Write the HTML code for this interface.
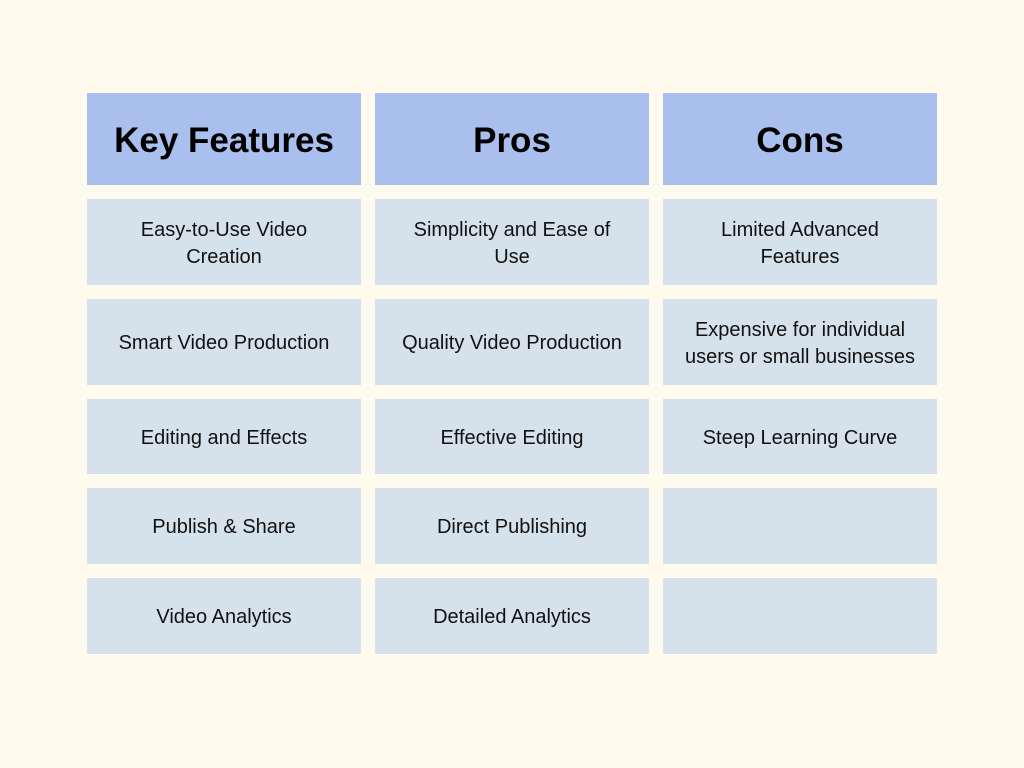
<!DOCTYPE html>
<html><head><style>
body{margin:0;width:1024px;height:768px;background:#fefbee;position:relative;overflow:hidden;font-family:"Liberation Sans","DejaVu Sans",sans-serif}
.c{position:absolute;display:flex;align-items:center;justify-content:center;text-align:center;background:#d5e2ec;color:#111;font-size:20px;line-height:27px;box-sizing:border-box;padding:3px 8px 0}
.h{background:#a9bfed;font-weight:bold;font-size:35px;color:#000;padding-top:2px}
</style></head><body>
<div class="c h" style="left:87px;top:93px;width:274px;height:92px">Key Features</div>
<div class="c h" style="left:375px;top:93px;width:274px;height:92px">Pros</div>
<div class="c h" style="left:663px;top:93px;width:274px;height:92px">Cons</div>

<div class="c" style="left:87px;top:199px;width:274px;height:86px">Easy-to-Use Video<br>Creation</div>
<div class="c" style="left:375px;top:199px;width:274px;height:86px">Simplicity and Ease of<br>Use</div>
<div class="c" style="left:663px;top:199px;width:274px;height:86px">Limited Advanced<br>Features</div>

<div class="c" style="left:87px;top:299px;width:274px;height:86px">Smart Video Production</div>
<div class="c" style="left:375px;top:299px;width:274px;height:86px">Quality Video Production</div>
<div class="c" style="left:663px;top:299px;width:274px;height:86px">Expensive for individual<br>users or small businesses</div>

<div class="c" style="left:87px;top:399px;width:274px;height:75px">Editing and Effects</div>
<div class="c" style="left:375px;top:399px;width:274px;height:75px">Effective Editing</div>
<div class="c" style="left:663px;top:399px;width:274px;height:75px">Steep Learning Curve</div>

<div class="c" style="left:87px;top:488px;width:274px;height:76px">Publish &amp; Share</div>
<div class="c" style="left:375px;top:488px;width:274px;height:76px">Direct Publishing</div>
<div class="c" style="left:663px;top:488px;width:274px;height:76px"></div>

<div class="c" style="left:87px;top:578px;width:274px;height:76px">Video Analytics</div>
<div class="c" style="left:375px;top:578px;width:274px;height:76px">Detailed Analytics</div>
<div class="c" style="left:663px;top:578px;width:274px;height:76px"></div>
</body></html>
